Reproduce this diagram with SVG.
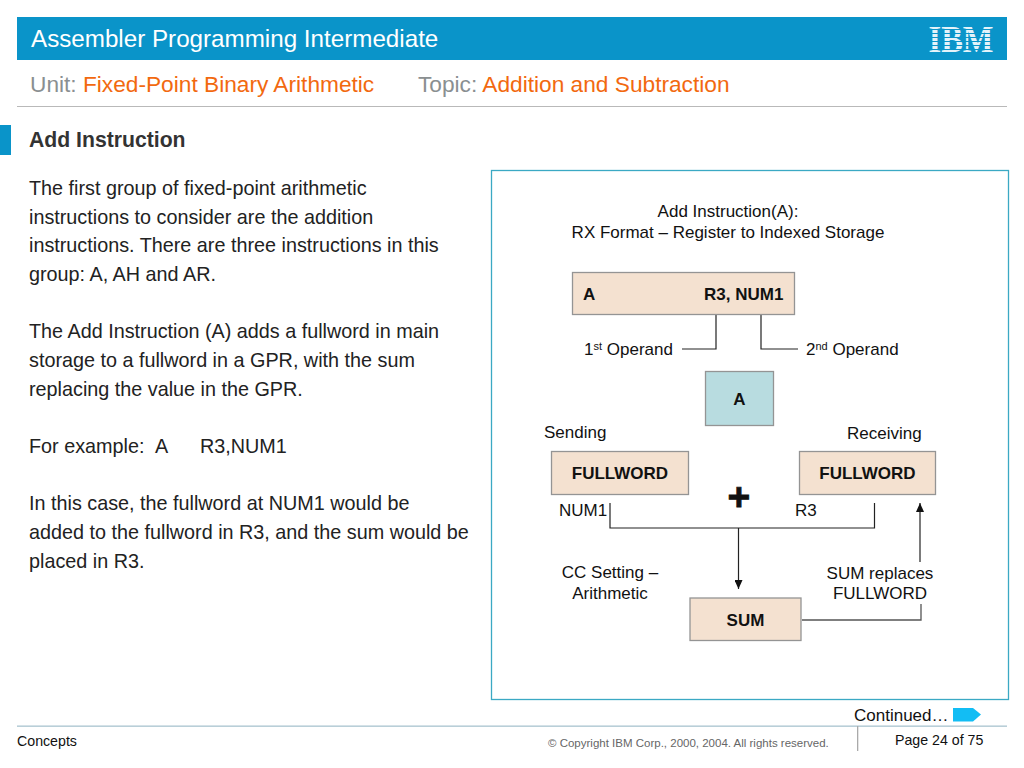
<svg xmlns="http://www.w3.org/2000/svg" width="1024" height="768" viewBox="0 0 1024 768">
<style>
text{font-family:"Liberation Sans",Arial,sans-serif;fill:#000}
.body{font-size:19.8px;fill:#222}
.d{font-size:17px;fill:#111}
.b{font-size:17px;font-weight:bold;fill:#111}
.box{fill:#f4e1d0;stroke:#949494;stroke-width:1.3}
.ln{fill:none;stroke:#222;stroke-width:1.2}
.gr{fill:#8a8f91}
.or{fill:#f2690f}
</style>
<defs>
<marker id="ah" viewBox="0 0 9 8" refX="9" refY="4" markerWidth="9" markerHeight="8" orient="auto" markerUnits="userSpaceOnUse"><path d="M0 0L9 4L0 8Z" fill="#111"/></marker>
</defs>
<rect width="1024" height="768" fill="#fff"/>
<g id="header">
<rect x="17" y="17" width="990" height="43" fill="#0a94c9"/>
<text x="31" y="47" font-size="24.2" style="fill:#fff">Assembler Programming Intermediate</text>
<text x="961" y="52" font-size="37" font-weight="bold" text-anchor="middle" textLength="65" lengthAdjust="spacingAndGlyphs" style="font-family:'Liberation Serif',serif;fill:#e4f3fa">IBM</text>
<g stroke="#0a94c9" stroke-width="1"><path d="M926 29.500H996M926 33.500H996M926 37.500H996M926 41.500H996M926 45.500H996M926 49.500H996"/></g>
<text x="30" y="92" font-size="22.7" class="gr">Unit: <tspan class="or">Fixed-Point Binary Arithmetic</tspan></text>
<text x="418" y="92" font-size="22.7" class="gr">Topic: <tspan class="or">Addition and Subtraction</tspan></text>
<rect x="17" y="106" width="990" height="1" fill="#b9b9b9"/>
<rect x="0" y="125" width="11" height="30" fill="#0a94c9"/>
<text x="29" y="147" font-size="21.2" font-weight="bold" style="fill:#333">Add Instruction</text>
</g>
<g id="body-text">
<text x="29" y="195" class="body">The first group of fixed-point arithmetic</text>
<text x="29" y="224" class="body">instructions to consider are the addition</text>
<text x="29" y="252" class="body">instructions. There are three instructions in this</text>
<text x="29" y="281" class="body">group: A, AH and AR.</text>
<text x="29" y="338" class="body">The Add Instruction (A) adds a fullword in main</text>
<text x="29" y="367" class="body">storage to a fullword in a GPR, with the sum</text>
<text x="29" y="396" class="body">replacing the value in the GPR.</text>
<text x="29" y="453" class="body">For example:</text>
<text x="155" y="453" class="body">A</text>
<text x="200" y="453" class="body">R3,NUM1</text>
<text x="29" y="510" class="body">In this case, the fullword at NUM1 would be</text>
<text x="29" y="539" class="body">added to the fullword in R3, and the sum would be</text>
<text x="29" y="568" class="body">placed in R3.</text>
</g>
<rect id="panel" x="491.500" y="170.500" width="517" height="529" fill="#fff" stroke="#3ba9c4" stroke-width="1.300"/>
<g id="connectors">
<path class="ln" d="M716 307V349H682"/>
<path class="ln" d="M761 307V349H798"/>
<path class="ln" d="M610 503V528H874.500V503"/>
<path class="ln" d="M738.500 528V589" marker-end="url(#ah)"/>
<path d="M802 620H921V604" fill="none" stroke="#555" stroke-width="1.300"/>
<path class="ln" d="M920 562V503" marker-end="url(#ah)"/>
</g>
<g id="title-label">
<text x="728" y="217" class="d" text-anchor="middle">Add Instruction(A):</text>
<text x="728" y="237.500" class="d" text-anchor="middle">RX Format – Register to Indexed Storage</text>
</g>
<g id="node-instruction">
<rect class="box" x="572.500" y="272.500" width="222" height="42"/>
<text x="583" y="300" class="b">A</text>
<text x="704" y="300" class="b">R3, NUM1</text>
</g>
<g id="label-op1"><text x="584" y="355" class="d">1<tspan font-size="11" dy="-5">st</tspan><tspan dy="5"> Operand</tspan></text></g>
<g id="label-op2"><text x="806" y="355" class="d">2<tspan font-size="11" dy="-5">nd</tspan><tspan dy="5"> Operand</tspan></text></g>
<g id="node-a">
<rect x="705.500" y="371.500" width="68" height="54" fill="#b8dce0" stroke="#949494" stroke-width="1.300"/>
<text x="739.500" y="405" class="b" text-anchor="middle">A</text>
</g>
<g id="label-sending"><text x="544" y="438" class="d">Sending</text></g>
<g id="label-receiving"><text x="847" y="439" class="d">Receiving</text></g>
<g id="node-fullword-left">
<rect class="box" x="551.500" y="451.500" width="137" height="43"/>
<text x="620" y="479" class="b" text-anchor="middle">FULLWORD</text>
</g>
<g id="node-fullword-right">
<rect class="box" x="799.500" y="451.500" width="136" height="43"/>
<text x="867.500" y="479" class="b" text-anchor="middle">FULLWORD</text>
</g>
<g id="label-plus"><text x="739" y="510" font-size="39" font-weight="bold" text-anchor="middle" style="fill:#111;stroke:#111;stroke-width:.8">+</text></g>
<g id="label-num1"><text x="559" y="516" class="d">NUM1</text></g>
<g id="label-r3"><text x="795" y="516" class="d">R3</text></g>
<g id="label-cc">
<text x="610" y="578" class="d" text-anchor="middle">CC Setting –</text>
<text x="610" y="599" class="d" text-anchor="middle">Arithmetic</text>
</g>
<g id="label-replaces">
<text x="880" y="579" class="d" text-anchor="middle">SUM replaces</text>
<text x="880" y="599" class="d" text-anchor="middle">FULLWORD</text>
</g>
<g id="node-sum">
<rect class="box" x="690" y="598" width="111" height="42.500"/>
<text x="745.500" y="626" class="b" text-anchor="middle">SUM</text>
</g>
<g id="footer">
<text x="854" y="721" class="d">Continued…</text>
<path d="M953 708H973L981 714.500L973 721.500H953Z" fill="#12bdf4"/>
<rect x="17" y="725.500" width="990" height="1.300" fill="#a9c4cf"/>
<rect x="857" y="726" width="1.300" height="25" fill="#aaa"/>
<text x="17" y="746" font-size="14.200" style="fill:#111">Concepts</text>
<text x="548" y="747" font-size="11.500" style="fill:#666">© Copyright IBM Corp., 2000, 2004. All rights reserved.</text>
<text x="895" y="745" font-size="14.200" style="fill:#111">Page 24 of 75</text>
</g>
</svg>
